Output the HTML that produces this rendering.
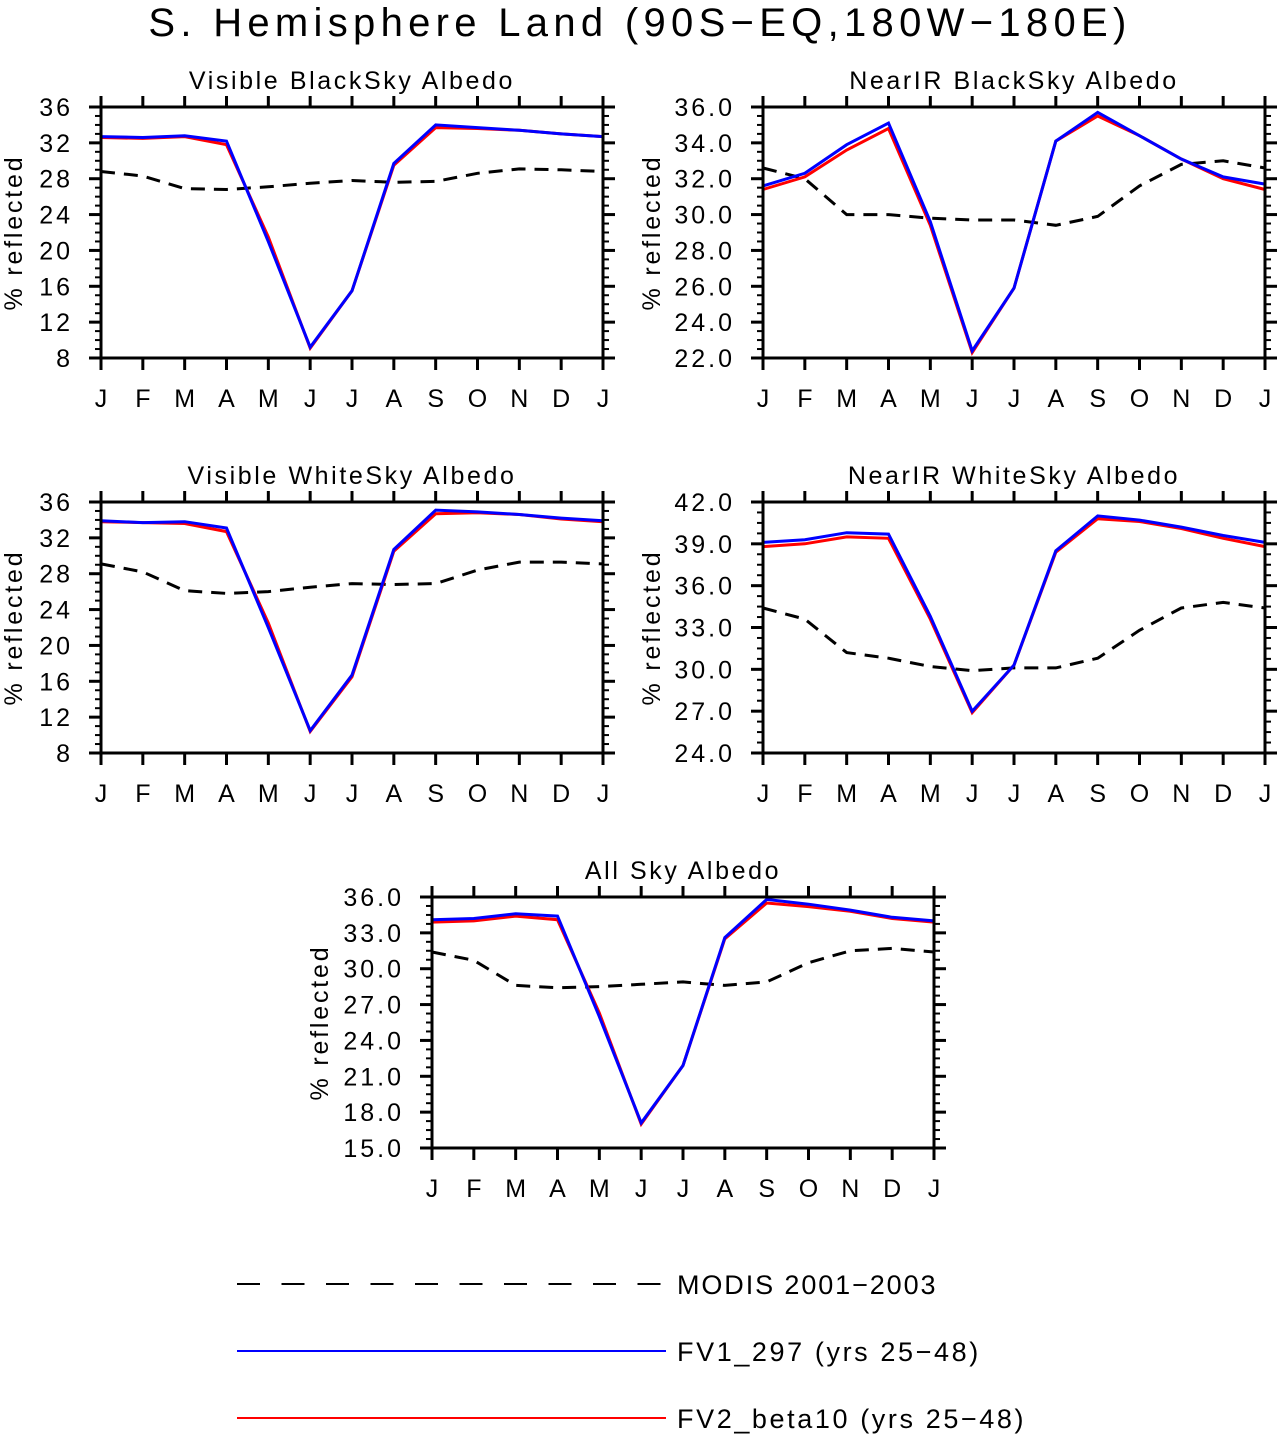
<!DOCTYPE html>
<html><head><meta charset="utf-8">
<style>
html,body{margin:0;padding:0;background:#fff;}
svg{display:block;}
text{font-family:"Liberation Sans",sans-serif;fill:#000;}
</style></head>
<body>
<svg id="chart" width="1278" height="1434" viewBox="0 0 1278 1434" xmlns="http://www.w3.org/2000/svg">
<text x="640" y="36" font-size="40" text-anchor="middle" letter-spacing="5.3">S. Hemisphere Land (90S−EQ,180W−180E)</text>
<g id="panels"></g>
<g>
  <line x1="237" y1="1284" x2="666" y2="1284" stroke="#000" stroke-width="2" stroke-dasharray="23 21.5"/>
  <text x="677" y="1294" font-size="27" letter-spacing="1.9">MODIS 2001−2003</text>
  <line x1="237" y1="1351" x2="666" y2="1351" stroke="#0000ff" stroke-width="2"/>
  <text x="677" y="1361" font-size="27" letter-spacing="2.6">FV1_297 (yrs 25−48)</text>
  <line x1="237" y1="1418" x2="666" y2="1418" stroke="#ff0000" stroke-width="2"/>
  <text x="677" y="1428" font-size="27" letter-spacing="2.6">FV2_beta10 (yrs 25−48)</text>
</g>
</svg>
<script>
const months = ["J","F","M","A","M","J","J","A","S","O","N","D","J"];
const titles = ["Visible BlackSky Albedo","NearIR BlackSky Albedo","Visible WhiteSky Albedo","NearIR WhiteSky Albedo","All Sky Albedo"];
const yMins = [8,22,8,24,15];
const yMaxs = [36,36,36,42,36];
const ySteps = [4,2,4,3,3];
const yDecimals = [0,1,0,1,1];
const fv1Vis = [32.7,32.6,32.8,32.2,21,9.2,15.5,29.7,34.0,33.7,33.4,33.0,32.7];
const fv2Vis = [32.6,32.5,32.7,31.8,21.5,9.1,15.5,29.5,33.7,33.6,33.4,33.0,32.7];
const modisVis = [28.8,28.3,26.9,26.8,27.1,27.5,27.8,27.6,27.7,28.6,29.1,29.0,28.8];
const fv1Nir = [31.6,32.3,33.9,35.1,29.6,22.4,25.9,34.1,35.7,34.4,33.1,32.1,31.7];
const fv2Nir = [31.4,32.1,33.6,34.8,29.4,22.3,25.9,34.1,35.5,34.4,33.1,32.0,31.4];
const modisNir = [32.6,32.0,30.0,30.0,29.8,29.7,29.7,29.4,29.9,31.6,32.8,33.0,32.6];
const fv1VisW = [33.9,33.7,33.8,33.1,22,10.5,16.7,30.7,35.1,34.9,34.6,34.2,33.9];
const fv2VisW = [33.8,33.7,33.6,32.7,22.5,10.4,16.5,30.5,34.7,34.8,34.6,34.1,33.8];
const modisVisW = [29.1,28.2,26.1,25.8,26.0,26.5,26.9,26.8,26.9,28.4,29.3,29.3,29.1];
const fv1NirW = [39.1,39.3,39.8,39.7,33.8,27.0,30.3,38.5,41.0,40.7,40.2,39.6,39.1];
const fv2NirW = [38.8,39.0,39.5,39.4,33.6,26.9,30.3,38.4,40.8,40.6,40.1,39.4,38.8];
const modisNirW = [34.4,33.6,31.2,30.8,30.2,29.9,30.1,30.1,30.8,32.8,34.4,34.8,34.4];
const fv1All = [34.1,34.2,34.6,34.4,26,17.1,21.9,32.6,35.8,35.4,34.9,34.3,34.0];
const fv2All = [33.9,34.0,34.4,34.1,26.3,17.0,21.9,32.5,35.5,35.2,34.8,34.2,33.9];
const modisAll = [31.4,30.7,28.6,28.4,28.5,28.7,28.9,28.6,28.9,30.5,31.5,31.7,31.4];
const fv1Series = [fv1Vis,fv1Nir,fv1VisW,fv1NirW,fv1All];
const fv2Series = [fv2Vis,fv2Nir,fv2VisW,fv2NirW,fv2All];
const modisSeries = [modisVis,modisNir,modisVisW,modisNirW,modisAll];

const NS="http://www.w3.org/2000/svg";
const root=document.getElementById('panels');
const boxes=[[101,107],[763,107],[101,502],[763,502],[432,897]];
const ytOff=[79,103,79,103,104];
const W=502,H=251;
function mk(tag,attrs,parent){const e=document.createElementNS(NS,tag);for(const k in attrs)e.setAttribute(k,attrs[k]);parent.appendChild(e);return e;}

for(let p=0;p<5;p++){
  const [x0,y0]=boxes[p];
  const g=mk('g',{},root);
  
  
  const ymin=yMins[p],ymax=yMaxs[p],step=ySteps[p];
  const xs=i=>x0+i*W/12;
  const ys=v=>y0+H-(v-ymin)/(ymax-ymin)*H;
  const t=mk('text',{x:x0+W/2,y:y0-18,'font-size':25,'text-anchor':'middle','letter-spacing':'2.6'},g);
  t.textContent=titles[p];
  
  
  const yl=mk('text',{x:0,y:0,'font-size':25,'text-anchor':'middle','letter-spacing':'2.8',transform:`translate(${x0-ytOff[p]},${y0+H/2}) rotate(-90)`},g);
  yl.textContent='% reflected';
  
  
  const minorStep=step/4;
  for(let v=ymin;v<=ymax+1e-6;v+=minorStep){
    const y=ys(v);
    mk('line',{x1:x0-6,y1:y,x2:x0,y2:y,stroke:'#000','stroke-width':2},g);
    mk('line',{x1:x0+W,y1:y,x2:x0+W+6,y2:y,stroke:'#000','stroke-width':2},g);
  }
  for(let v=ymin;v<=ymax+1e-6;v+=step){
    const y=ys(v);
    mk('line',{x1:x0-12,y1:y,x2:x0,y2:y,stroke:'#000','stroke-width':3},g);
    mk('line',{x1:x0+W,y1:y,x2:x0+W+12,y2:y,stroke:'#000','stroke-width':3},g);
    const tl=mk('text',{x:x0-28,y:y+9,'font-size':25,'text-anchor':'end','letter-spacing':'3'},g);
    tl.textContent=v.toFixed(yDecimals[p]);
    
    
  }
  months.forEach((m,i)=>{
    const x=xs(i);
    mk('line',{x1:x,y1:y0+H,x2:x,y2:y0+H+12,stroke:'#000','stroke-width':3},g);
    mk('line',{x1:x,y1:y0-11,x2:x,y2:y0,stroke:'#000','stroke-width':3},g);
    const tl=mk('text',{x:x,y:y0+H+49,'font-size':25,'text-anchor':'middle'},g);
    tl.textContent=m;
    
    
  });
  const pts=arr=>arr.map((v,i)=>xs(i).toFixed(1)+','+ys(v).toFixed(1)).join(' ');
  const md=mk('polyline',{points:pts(modisSeries[p]),fill:'none',stroke:'#000','stroke-width':3,'stroke-dasharray':'14 9'},g);
  
  
  const r=mk('polyline',{points:pts(fv2Series[p]),fill:'none',stroke:'#ff0000','stroke-width':3},g);
  
  
  const b=mk('polyline',{points:pts(fv1Series[p]),fill:'none',stroke:'#0000ff','stroke-width':3},g);
  
  
  const fr=mk('rect',{x:x0,y:y0,width:W,height:H,fill:'none',stroke:'#000','stroke-width':3},g);
  
  
}
</script>
</body></html>
